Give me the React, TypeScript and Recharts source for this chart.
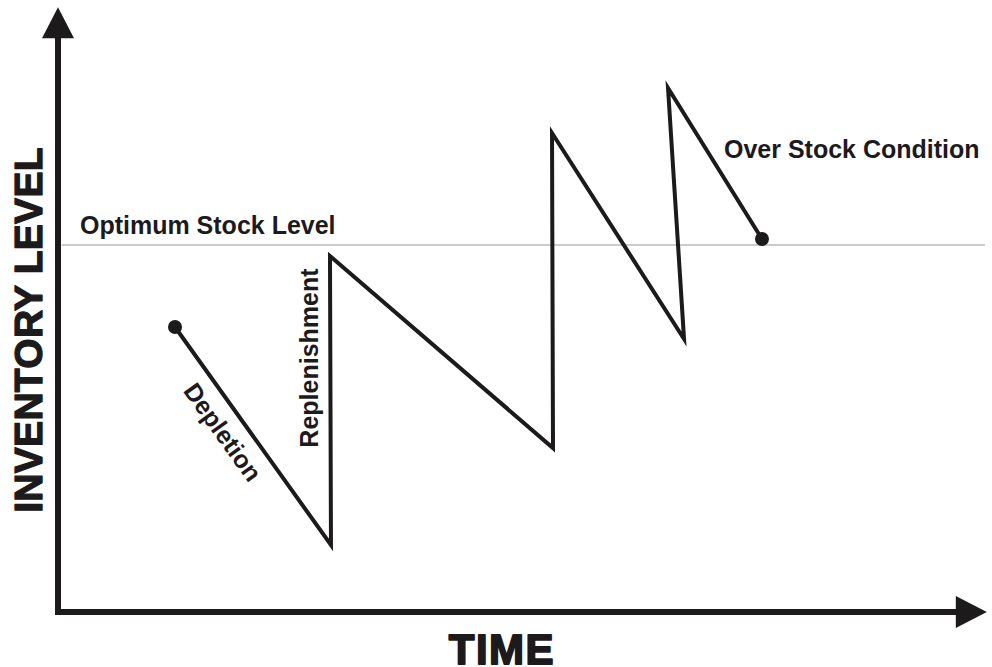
import React from "react";
import { LineChart, Line, XAxis, YAxis, ReferenceLine, ReferenceDot } from "recharts";

// Inventory path (time units, inventory level units)
const times = [13.0, 30.33, 30.22, 55.0, 54.89, 69.56, 67.78, 78.22];
const levels = [47.5, 11.17, 59.33, 27.33, 79.83, 45.5, 87.33, 62.17];
const optimumLevel = 61.17;
const optimumRange = [0.4, 103];

// annotation anchors: [time, level]
const labels = [
  { text: "Optimum Stock Level", t: 2.44, l: 63.0, size: 25, angle: 0, anchor: "start", base: "alphabetic", sw: 0, ls: 0 },
  { text: "Over Stock Condition", t: 74.0, l: 75.67, size: 25, angle: 0, anchor: "start", base: "alphabetic", sw: 0, ls: 0 },
  { text: "Depletion", t: 18.33, l: 30.0, size: 25, angle: 54.4, anchor: "middle", base: "central", sw: 0, ls: 0 },
  { text: "Replenishment", t: 27.9, l: 42.33, size: 25, angle: -90, anchor: "middle", base: "central", sw: 0, ls: 0 },
  { text: "INVENTORY LEVEL", t: -3.33, l: 47.0, size: 39, angle: -90, anchor: "middle", base: "central", sw: 1.3, ls: 0.3 },
  { text: "TIME", t: 49.33, l: -8.6, size: 42, angle: 0, anchor: "middle", base: "alphabetic", sw: 1.8, ls: 1.5 },
];

const data = times.map((t, i) => ({ t, level: levels[i] }));
const INK = "#1c1a1b";
const FONT = "'Liberation Sans', Arial, sans-serif";

const Arrow = (props: any) => {
  const { x1, y1, x2, y2 } = props;
  const dx = x2 - x1;
  const dy = y2 - y1;
  const len = Math.sqrt(dx * dx + dy * dy) || 1;
  const ux = dx / len;
  const uy = dy / len;
  const headLen = 31;
  const halfW = 16;
  const bx = x2 - ux * headLen;
  const by = y2 - uy * headLen;
  const px = -uy;
  const py = ux;
  return (
    <g>
      <line x1={x1} y1={y1} x2={bx + ux * 2} y2={by + uy * 2} stroke={INK} strokeWidth={6} />
      <polygon
        points={`${x2},${y2} ${bx + px * halfW},${by + py * halfW} ${bx - px * halfW},${by - py * halfW}`}
        fill={INK}
      />
    </g>
  );
};

export default function App() {
  return (
    <div style={{ position: "absolute", left: 0, top: 0, background: "#fff" }}>
      <LineChart
        width={992}
        height={667}
        data={data}
        margin={{ top: 12, right: 7, bottom: 55, left: 58 }}
      >
        <XAxis dataKey="t" type="number" domain={[0, 103]} hide allowDataOverflow />
        <YAxis type="number" domain={[0, 100]} hide allowDataOverflow />
        <ReferenceLine
          segment={[{ x: optimumRange[0], y: optimumLevel }, { x: optimumRange[1], y: optimumLevel }]}
          stroke="#9a9a9a"
          strokeWidth={1.2}
          ifOverflow="visible"
        />
        <ReferenceLine
          segment={[{ x: 0, y: -0.5 }, { x: 0, y: 100.8 }]}
          ifOverflow="visible"
          shape={Arrow}
        />
        <ReferenceLine
          segment={[{ x: -0.33, y: 0 }, { x: 103.2, y: 0 }]}
          ifOverflow="visible"
          shape={Arrow}
        />
        <Line
          dataKey="level"
          type="linear"
          stroke={INK}
          strokeWidth={4}
          strokeLinejoin="miter"
          strokeMiterlimit={12}
          dot={false}
          activeDot={false}
          isAnimationActive={false}
        />
        <ReferenceDot x={times[0]} y={levels[0]} r={7} fill={INK} stroke="none" ifOverflow="visible" />
        <ReferenceDot
          x={times[times.length - 1]}
          y={levels[levels.length - 1]}
          r={7}
          fill={INK}
          stroke="none"
          ifOverflow="visible"
        />
        {labels.map((lb) => (
          <ReferenceDot
            key={lb.text}
            x={lb.t}
            y={lb.l}
            r={0}
            ifOverflow="visible"
            shape={(p: any) => (
              <text
                x={p.cx}
                y={p.cy}
                fill={INK}
                stroke={lb.sw ? INK : "none"}
                strokeWidth={lb.sw}
                strokeLinejoin="round"
                letterSpacing={lb.ls}
                fontFamily={FONT}
                fontWeight="bold"
                fontSize={lb.size}
                textAnchor={lb.anchor as any}
                dominantBaseline={lb.base as any}
                transform={lb.angle ? `rotate(${lb.angle} ${p.cx} ${p.cy})` : undefined}
              >
                {lb.text}
              </text>
            )}
          />
        ))}
      </LineChart>
    </div>
  );
}
